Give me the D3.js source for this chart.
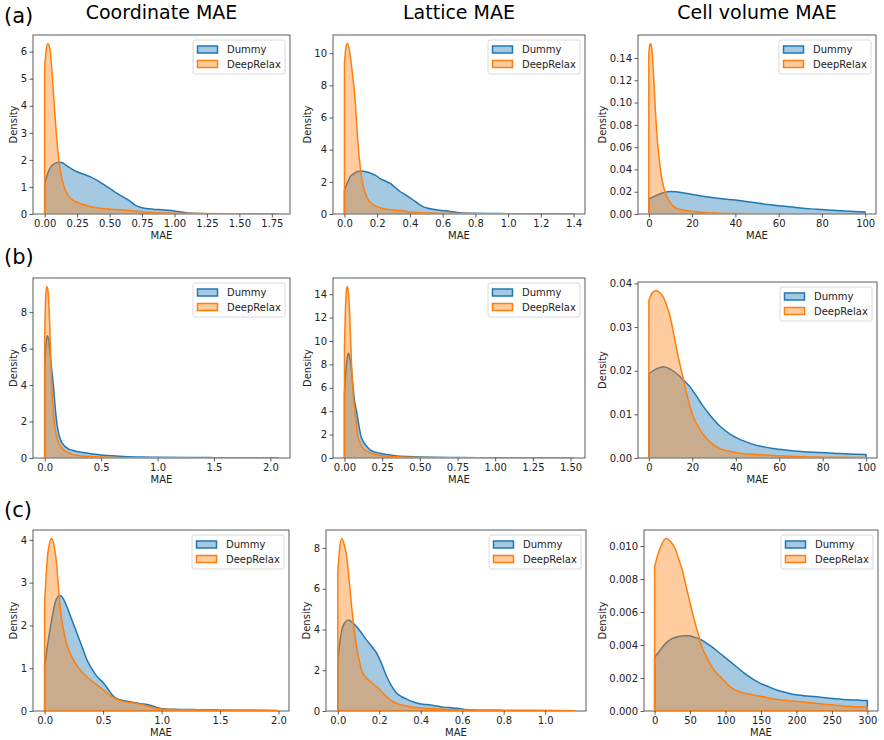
<!DOCTYPE html>
<html>
<head>
<meta charset="utf-8">
<script src="https://cdn.jsdelivr.net/npm/d3@7"></script>
<style>
body { margin: 0; background: #fff; }
text { font-family: "DejaVu Sans", sans-serif; }
</style>
</head>
<body>
<script>
var width = 884;
var height = 740;

var colTitles = ["Coordinate MAE", "Lattice MAE", "Cell volume MAE"];
var rowLabels = ["(a)", "(b)", "(c)"];
var seriesNames = ["Dummy", "DeepRelax"];
var colors = ["#1f77b4", "#ff7f0e"];

// density curves, [MAE, density]
var a1Dummy = [[0,1.13],[0.02,1.45],[0.04,1.69],[0.07,1.84],[0.1,1.9],[0.13,1.9],[0.17,1.78],[0.21,1.66],[0.25,1.56],[0.3,1.47],[0.35,1.38],[0.4,1.25],[0.45,1.1],[0.5,0.95],[0.55,0.78],[0.6,0.64],[0.65,0.5],[0.7,0.32],[0.75,0.23],[0.8,0.19],[0.85,0.17],[0.9,0.16],[0.95,0.14],[1.0,0.11],[1.05,0.07],[1.1,0.04],[1.2,0.02],[1.3,0.01],[1.5,0.005],[1.8,0.002]];
var a1Deep = [[0,5.4],[0.01,6.0],[0.025,6.3],[0.04,6.1],[0.06,5.0],[0.08,3.6],[0.1,2.4],[0.12,1.6],[0.15,1.0],[0.18,0.7],[0.22,0.5],[0.27,0.4],[0.35,0.28],[0.45,0.2],[0.55,0.17],[0.65,0.13],[0.75,0.08],[0.85,0.05],[1.0,0.03],[1.2,0.015],[1.5,0.006],[1.8,0.002]];

var a2Dummy = [[0,1.49],[0.02,2.0],[0.035,2.32],[0.055,2.5],[0.076,2.63],[0.106,2.67],[0.13,2.63],[0.157,2.55],[0.19,2.4],[0.218,2.2],[0.25,2.05],[0.28,1.9],[0.31,1.65],[0.34,1.4],[0.38,1.15],[0.42,0.87],[0.45,0.65],[0.48,0.46],[0.51,0.36],[0.54,0.29],[0.58,0.24],[0.62,0.2],[0.66,0.14],[0.7,0.08],[0.8,0.04],[0.9,0.03],[1.0,0.02],[1.2,0.01],[1.4,0.003]];
var a2Deep = [[0,9.36],[0.008,10.3],[0.017,10.6],[0.03,10.2],[0.044,9.15],[0.055,8.2],[0.065,7.08],[0.073,5.9],[0.081,4.6],[0.096,2.94],[0.116,1.7],[0.147,0.87],[0.17,0.62],[0.198,0.46],[0.24,0.33],[0.28,0.26],[0.32,0.23],[0.36,0.2],[0.4,0.12],[0.46,0.08],[0.58,0.05],[0.7,0.03],[0.8,0.02],[1.0,0.01],[1.2,0.005],[1.4,0.002]];

var a3Dummy = [[0,0.0135],[2.5,0.0158],[5,0.018],[7.5,0.0195],[10,0.0201],[12.5,0.02],[15,0.0193],[20,0.0175],[25,0.016],[30,0.0146],[35,0.0135],[40,0.0125],[45,0.0112],[50,0.0098],[55,0.0085],[60,0.0075],[65,0.0064],[70,0.0054],[75,0.0046],[80,0.004],[85,0.0033],[90,0.0027],[95,0.0022],[100,0.0018]];
var a3Deep = [[0,0.144],[0.4,0.151],[0.9,0.153],[1.5,0.146],[2.4,0.117],[3.0,0.094],[3.7,0.0725],[4.4,0.057],[5.2,0.0426],[6,0.032],[6.8,0.0246],[8,0.0175],[9.1,0.0126],[11,0.0075],[13,0.005],[16,0.0035],[19.2,0.0026],[24,0.0015],[30,0.0008],[40,0.0005],[50,0.0003],[70,0.0002],[100,0.0001]];

var b1Dummy = [[0,5.0],[0.012,6.3],[0.025,6.7],[0.037,6.4],[0.05,5.6],[0.063,4.8],[0.077,4.0],[0.09,3.0],[0.106,2.0],[0.12,1.45],[0.14,1.0],[0.17,0.7],[0.21,0.5],[0.26,0.4],[0.34,0.3],[0.42,0.22],[0.5,0.17],[0.6,0.12],[0.7,0.08],[0.85,0.05],[1.0,0.04],[1.25,0.03],[1.5,0.02],[1.75,0.015],[2.07,0.01]];
var b1Deep = [[0,6.5],[0.008,8.7],[0.018,9.4],[0.028,9.2],[0.04,8.1],[0.05,6.3],[0.062,4.0],[0.073,2.8],[0.085,2.0],[0.1,1.35],[0.12,0.9],[0.15,0.55],[0.2,0.32],[0.25,0.2],[0.3,0.14],[0.4,0.08],[0.5,0.05],[0.7,0.02],[1.0,0.01],[1.5,0.005],[2.07,0.002]];

var b2Dummy = [[0,5.5],[0.01,7.5],[0.02,8.7],[0.027,8.95],[0.035,8.6],[0.043,8.0],[0.055,6.3],[0.068,4.8],[0.08,4.0],[0.093,3.0],[0.107,2.0],[0.125,1.4],[0.147,1.0],[0.17,0.7],[0.2,0.52],[0.235,0.4],[0.29,0.28],[0.345,0.18],[0.42,0.12],[0.5,0.08],[0.75,0.04],[1.0,0.02],[1.25,0.015],[1.52,0.01]];
var b2Deep = [[0,9.5],[0.006,12.5],[0.012,14.2],[0.019,14.65],[0.027,14.0],[0.035,12.2],[0.047,8.0],[0.058,5.5],[0.07,4.0],[0.08,2.8],[0.087,2.0],[0.1,1.4],[0.114,1.0],[0.14,0.65],[0.18,0.4],[0.25,0.2],[0.35,0.1],[0.5,0.05],[0.75,0.02],[1.0,0.01],[1.25,0.005],[1.52,0.002]];

var b3Dummy = [[0,0.0193],[3,0.0203],[6.7,0.0209],[10,0.0203],[12.9,0.0193],[16,0.0178],[19,0.0163],[22,0.0141],[25.2,0.0117],[29,0.0093],[32.9,0.0072],[37,0.0056],[42.1,0.0042],[47,0.0033],[51.4,0.0027],[57,0.0022],[63.7,0.0018],[70,0.0015],[76,0.0013],[85,0.0011],[92,0.0009],[100,0.0008]];
var b3Deep = [[0,0.0361],[1.5,0.0378],[3.3,0.0384],[5,0.0379],[6.7,0.0368],[8.3,0.0348],[9.8,0.0323],[11.3,0.0288],[12.9,0.0247],[14.5,0.021],[16,0.0178],[17.5,0.0146],[19,0.0117],[21,0.0088],[23.7,0.0064],[26.5,0.0045],[29.8,0.003],[33,0.0021],[37.5,0.0015],[43,0.001],[50,0.0008],[60,0.0005],[70,0.0003],[80,0.0002],[100,0.0001]];

var c1Dummy = [[0,1.04],[0.02,1.45],[0.046,1.9],[0.068,2.25],[0.089,2.53],[0.11,2.66],[0.132,2.7],[0.16,2.62],[0.189,2.45],[0.23,2.15],[0.275,1.83],[0.32,1.5],[0.361,1.2],[0.4,1.0],[0.447,0.81],[0.505,0.65],[0.55,0.48],[0.591,0.34],[0.635,0.27],[0.677,0.24],[0.72,0.22],[0.763,0.2],[0.82,0.17],[0.877,0.15],[0.93,0.11],[0.992,0.06],[1.1,0.04],[1.33,0.03],[1.6,0.02],[1.8,0.015],[1.99,0.01]];
var c1Deep = [[0,2.53],[0.013,3.2],[0.026,3.65],[0.045,3.95],[0.061,4.03],[0.078,3.9],[0.093,3.65],[0.104,3.39],[0.115,3.0],[0.127,2.6],[0.143,2.2],[0.161,1.9],[0.185,1.6],[0.218,1.35],[0.26,1.13],[0.304,0.96],[0.35,0.83],[0.39,0.73],[0.45,0.6],[0.505,0.49],[0.57,0.35],[0.648,0.24],[0.7,0.21],[0.763,0.19],[0.83,0.15],[0.906,0.1],[0.96,0.06],[1.02,0.04],[1.2,0.03],[1.5,0.02],[1.75,0.01],[1.99,0.005]];

var c2Dummy = [[0,2.5],[0.01,3.4],[0.019,3.97],[0.035,4.35],[0.051,4.46],[0.07,4.35],[0.091,4.13],[0.115,3.82],[0.139,3.48],[0.165,3.15],[0.188,2.83],[0.212,2.3],[0.236,1.68],[0.26,1.22],[0.284,0.87],[0.308,0.7],[0.333,0.58],[0.357,0.47],[0.381,0.39],[0.41,0.33],[0.445,0.3],[0.48,0.24],[0.51,0.19],[0.545,0.16],[0.574,0.14],[0.623,0.06],[0.7,0.04],[0.8,0.03],[1.0,0.02],[1.14,0.01]];
var c2Deep = [[0,6.83],[0.008,7.9],[0.019,8.46],[0.03,8.2],[0.043,7.57],[0.051,6.8],[0.059,5.95],[0.067,5.1],[0.075,4.3],[0.083,3.7],[0.091,3.15],[0.103,2.5],[0.115,2.0],[0.13,1.72],[0.148,1.52],[0.168,1.35],[0.188,1.19],[0.21,0.97],[0.236,0.7],[0.26,0.5],[0.284,0.37],[0.315,0.28],[0.349,0.21],[0.4,0.15],[0.445,0.12],[0.52,0.08],[0.6,0.05],[0.7,0.04],[0.8,0.03],[0.95,0.02],[1.14,0.01]];

var c3Dummy = [[0,0.00324],[8,0.0037],[15.5,0.0041],[25,0.0044],[34,0.00452],[41,0.00456],[48,0.00456],[56,0.00448],[64.2,0.00435],[72,0.00415],[80.4,0.0039],[92,0.0035],[103.6,0.0031],[115,0.0027],[126.8,0.00228],[138,0.00195],[150,0.00166],[162,0.00145],[173,0.00126],[185,0.00112],[196.5,0.001],[210,0.00093],[219.8,0.0009],[240,0.0008],[266,0.0007],[285,0.00066],[300,0.00063]];
var c3Deep = [[0,0.00877],[6.2,0.0097],[11,0.0102],[16.4,0.01045],[22,0.0103],[29.4,0.0098],[34,0.0092],[38.7,0.0086],[43,0.0078],[48,0.0069],[52.5,0.0061],[57.3,0.0053],[62,0.0046],[66.5,0.0039],[73,0.0033],[80.4,0.0027],[87,0.0023],[94.3,0.002],[103,0.0016],[112.9,0.0013],[125,0.0011],[136,0.001],[155,0.00085],[173,0.0007],[200,0.00058],[220,0.0005],[245,0.0004],[266,0.00031],[285,0.00026],[300,0.00022]];

var panels = [
  [a1Dummy, a1Deep], [a2Dummy, a2Deep], [a3Dummy, a3Deep],
  [b1Dummy, b1Deep], [b2Dummy, b2Deep], [b3Dummy, b3Deep],
  [c1Dummy, c1Deep], [c2Dummy, c2Deep], [c3Dummy, c3Deep]
];

var xTicks = [
  [0, 0.25, 0.5, 0.75, 1, 1.25, 1.5, 1.75],
  [0, 0.2, 0.4, 0.6, 0.8, 1, 1.2, 1.4],
  [0, 20, 40, 60, 80, 100],
  [0, 0.5, 1, 1.5, 2],
  [0, 0.25, 0.5, 0.75, 1, 1.25, 1.5],
  [0, 20, 40, 60, 80, 100],
  [0, 0.5, 1, 1.5, 2],
  [0, 0.2, 0.4, 0.6, 0.8, 1],
  [0, 50, 100, 150, 200, 250, 300]
];
var yTicks = [
  [0, 1, 2, 3, 4, 5, 6],
  [0, 2, 4, 6, 8, 10],
  [0, 0.02, 0.04, 0.06, 0.08, 0.1, 0.12, 0.14],
  [0, 2, 4, 6, 8],
  [0, 2, 4, 6, 8, 10, 12, 14],
  [0, 0.01, 0.02, 0.03, 0.04],
  [0, 1, 2, 3, 4],
  [0, 2, 4, 6, 8],
  [0, 0.002, 0.004, 0.006, 0.008, 0.01]
];
var xFormats = [".2f", ".1f", "d", ".1f", ".2f", "d", ".1f", ".1f", "d"];
var yFormats = ["d", "d", ".2f", "d", "d", ".2f", "d", "d", ".3f"];

// axes boxes in pixels
var boxes = [
  {x0: 33, x1: 290, y0: 35, y1: 214},
  {x0: 333, x1: 585, y0: 35, y1: 214},
  {x0: 638, x1: 876, y0: 35, y1: 214},
  {x0: 33, x1: 290, y0: 278, y1: 458},
  {x0: 333, x1: 585, y0: 278, y1: 458},
  {x0: 638, x1: 877, y0: 282, y1: 458},
  {x0: 33, x1: 289, y0: 530, y1: 711},
  {x0: 326, x1: 586, y0: 530, y1: 711},
  {x0: 644, x1: 878, y0: 530, y1: 711}
];

var svg = d3.select("body").append("svg")
  .attr("width", width)
  .attr("height", height);

boxes.forEach(function(b, i) {
  var data = panels[i];
  var xmax = d3.max(data, function(s) { return d3.max(s, function(d) { return d[0]; }); });
  var ymax = d3.max(data, function(s) { return d3.max(s, function(d) { return d[1]; }); });

  var x = d3.scaleLinear().domain([-0.05 * xmax, 1.05 * xmax]).range([b.x0, b.x1]);
  var y = d3.scaleLinear().domain([0, 1.05 * ymax]).range([b.y1, b.y0]);

  var g = svg.append("g");

  g.append("clipPath").attr("id", "clip" + i)
    .append("rect")
    .attr("x", b.x0).attr("y", b.y0)
    .attr("width", b.x1 - b.x0).attr("height", b.y1 - b.y0);

  g.append("rect")
    .attr("x", b.x0).attr("y", b.y0)
    .attr("width", b.x1 - b.x0).attr("height", b.y1 - b.y0)
    .attr("fill", "none")
    .attr("stroke", "#333")
    .attr("stroke-width", 0.8);

  var area = d3.area()
    .x(function(d) { return x(d[0]); })
    .y0(y(0))
    .y1(function(d) { return y(d[1]); })
    .curve(d3.curveMonotoneX);

  var plot = g.append("g").attr("clip-path", "url(#clip" + i + ")");
  data.forEach(function(s, k) {
    plot.append("path")
      .attr("d", area(s))
      .attr("fill", colors[k])
      .attr("fill-opacity", 0.4)
      .attr("stroke", colors[k])
      .attr("stroke-width", 1.5)
      .attr("stroke-linejoin", "round");
  });

  var xAxis = g.append("g")
    .attr("transform", "translate(0," + b.y1 + ")")
    .call(d3.axisBottom(x).tickValues(xTicks[i]).tickFormat(d3.format(xFormats[i])).tickSize(3.5).tickPadding(2.5));
  var yAxis = g.append("g")
    .attr("transform", "translate(" + b.x0 + ",0)")
    .call(d3.axisLeft(y).tickValues(yTicks[i]).tickFormat(d3.format(yFormats[i])).tickSize(3.5).tickPadding(2.5));

  [xAxis, yAxis].forEach(function(a) {
    a.select(".domain").remove();
    a.selectAll("line").attr("stroke", "#333").attr("stroke-width", 0.8);
    a.selectAll("text").attr("font-size", 10).attr("fill", "#222")
      .attr("font-family", "DejaVu Sans, sans-serif");
  });

  g.append("text")
    .attr("x", (b.x0 + b.x1) / 2)
    .attr("y", b.y1 + 25)
    .attr("text-anchor", "middle")
    .attr("font-size", 10)
    .attr("fill", "#222")
    .text("MAE");

  var bb = yAxis.node().getBBox();
  var lx = b.x0 + bb.x - 3.5;
  g.append("text")
    .attr("transform", "translate(" + lx + "," + ((b.y0 + b.y1) / 2) + ") rotate(-90)")
    .attr("text-anchor", "middle")
    .attr("font-size", 10)
    .attr("fill", "#222")
    .text("Density");

  // legend
  var lg = g.append("g").attr("transform", "translate(" + (b.x1 - 5 - 92) + "," + (b.y0 + 5) + ")");
  lg.append("rect")
    .attr("width", 92).attr("height", 34).attr("rx", 2)
    .attr("fill", "#fff").attr("fill-opacity", 0.8)
    .attr("stroke", "#d0d0d0").attr("stroke-width", 0.8);
  seriesNames.forEach(function(n, k) {
    var cy = 9.5 + k * 14.5;
    lg.append("rect")
      .attr("x", 4.5).attr("y", cy - 3.5)
      .attr("width", 20).attr("height", 7)
      .attr("fill", colors[k]).attr("fill-opacity", 0.4)
      .attr("stroke", colors[k]).attr("stroke-width", 1.5);
    lg.append("text")
      .attr("x", 34).attr("y", cy + 3.6)
      .attr("font-size", 10)
      .attr("fill", "#222")
      .text(n);
  });
});

// column titles
colTitles.forEach(function(t, j) {
  var b = boxes[j];
  svg.append("text")
    .attr("x", (b.x0 + b.x1) / 2)
    .attr("y", 19)
    .attr("text-anchor", "middle")
    .attr("font-family", "Liberation Sans, Arial, sans-serif")
    .attr("font-size", 19)
    .attr("fill", "#000")
    .text(t);
});

// row labels
var rowY = [23, 264, 517];
rowLabels.forEach(function(t, r) {
  svg.append("text")
    .attr("x", 4)
    .attr("y", rowY[r])
    .attr("font-family", "Liberation Sans, Arial, sans-serif")
    .attr("font-size", 21)
    .attr("fill", "#000")
    .text(t);
});
</script>
</body>
</html>
